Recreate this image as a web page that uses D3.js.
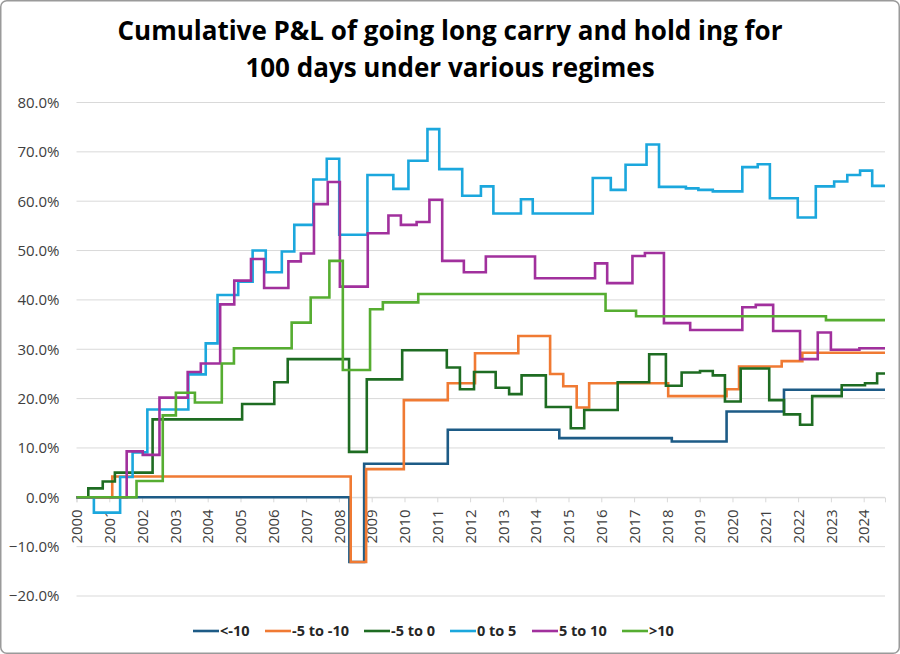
<!DOCTYPE html>
<html>
<head>
<meta charset="utf-8">
<script src="https://cdn.jsdelivr.net/npm/d3@7"></script>
<style>
  body { margin: 0; background: #fff; }
  text { font-family: "Open Sans", "Noto Sans", sans-serif; }
</style>
</head>
<body>
<div id="vis"></div>
<script>
const W = 900, H = 654;
const margin = { top: 102.5, right: 15, bottom: 58, left: 76.5 };
const width = W - margin.left - margin.right;
const height = 596 - margin.top;

const endYear = 2024.65;
const yearTicks = d3.range(2000, 2025);
const yTicks = [-0.2, -0.1, 0, 0.1, 0.2, 0.3, 0.4, 0.5, 0.6, 0.7, 0.8];

// [year of change, cumulative P&L in %]
const stepsBelowM10 = [[2000, 0], [2008.32, -13.1], [2008.77, 6.8], [2011.32, 13.7], [2014.72, 12.0],
    [2018.15, 11.3], [2019.82, 17.4], [2021.57, 21.8]];
const stepsM5toM10 = [[2000, 0], [2001.09, 4.2], [2008.36, -13.1], [2008.83, 5.7], [2009.98, 19.7],
    [2011.32, 23.1], [2012.15, 29.2], [2013.47, 32.7], [2014.44, 25.0], [2014.84, 22.5], [2015.25, 18.2],
    [2015.63, 23.1], [2018.04, 20.5], [2019.82, 21.9], [2020.2, 26.5], [2021.5, 27.6], [2022.13, 29.3]];
const stepsM5to0 = [[2000, 0], [2000.36, 1.8], [2000.8, 3.2], [2001.17, 5.0], [2002.32, 15.8],
    [2005.05, 18.9], [2006.03, 23.3], [2006.44, 28.0], [2008.31, 9.2], [2008.85, 23.9], [2009.93, 29.8],
    [2011.29, 26.3], [2011.69, 21.9], [2012.12, 25.4], [2012.78, 22.2], [2013.19, 20.9], [2013.57, 24.7],
    [2014.31, 18.3], [2015.07, 14.0], [2015.48, 17.7], [2016.5, 23.3], [2017.46, 29.0], [2017.97, 22.6],
    [2018.45, 25.3], [2019.01, 25.6], [2019.4, 24.7], [2019.77, 19.4], [2020.25, 26.1], [2021.12, 19.7],
    [2021.57, 16.8], [2022.06, 14.7], [2022.43, 20.5], [2023.33, 22.7], [2024.04, 23.1], [2024.41, 25.1]];
const steps0to5 = [[2000, 0], [2000.53, -3.1], [2001.33, 4.1], [2001.71, 9.1], [2002.16, 17.8],
    [2003.41, 24.9], [2003.94, 31.2], [2004.3, 41.0], [2004.93, 43.7], [2005.37, 50.0], [2005.77, 45.6],
    [2006.26, 49.8], [2006.64, 55.2], [2007.22, 64.4], [2007.63, 68.6], [2008.01, 53.2], [2008.87, 65.3],
    [2009.66, 62.5], [2010.12, 68.2], [2010.7, 74.6], [2011.06, 66.5], [2011.76, 61.1], [2012.33, 63.0],
    [2012.71, 57.5], [2013.55, 60.4], [2013.91, 57.5], [2015.74, 64.7], [2016.29, 62.3], [2016.74, 67.4],
    [2017.38, 71.5], [2017.76, 62.9], [2018.58, 62.6], [2018.96, 62.3], [2019.4, 62.0], [2020.3, 66.9],
    [2020.77, 67.5], [2021.14, 60.6], [2021.99, 56.7], [2022.54, 63.0], [2023.1, 64.0], [2023.5, 65.3],
    [2023.89, 66.2], [2024.26, 63.1]];
const steps5to10 = [[2000, 0], [2001.53, 9.3], [2002.02, 8.6], [2002.53, 20.2], [2003.39, 25.4],
    [2003.79, 27.1], [2004.38, 39.1], [2004.81, 43.9], [2005.32, 48.3], [2005.72, 42.4], [2006.46, 47.8],
    [2006.84, 49.4], [2007.24, 59.4], [2007.66, 63.9], [2008.03, 42.7], [2008.88, 53.5], [2009.51, 57.1],
    [2009.89, 55.2], [2010.37, 55.8], [2010.76, 60.3], [2011.15, 47.9], [2011.81, 45.6], [2012.48, 48.8],
    [2013.98, 44.4], [2015.81, 47.4], [2016.18, 43.4], [2016.95, 48.9], [2017.33, 49.5], [2017.91, 35.3],
    [2018.71, 33.9], [2020.3, 38.5], [2020.71, 39.0], [2021.24, 33.7], [2022.06, 28.0], [2022.6, 33.4],
    [2023.0, 29.9], [2023.87, 30.2]];
const stepsAbove10 = [[2000, 0], [2001.83, 3.3], [2002.63, 16.6], [2003.03, 21.2], [2003.61, 19.2],
    [2004.43, 27.1], [2004.8, 30.2], [2006.56, 35.4], [2007.14, 40.5], [2007.71, 47.9], [2008.12, 25.8],
    [2008.95, 38.1], [2009.34, 39.5], [2010.42, 41.2], [2016.13, 37.8], [2017.06, 36.7], [2022.85, 35.9]];

const seriesNames = ['<-10', '-5 to -10', '-5 to 0', '0 to 5', '5 to 10', '>10'];
const seriesColors = ['#1d5b86', '#f07a33', '#1e6c22', '#1ba7dd', '#a1309d', '#56ad31'];
const seriesSteps = [stepsBelowM10, stepsM5toM10, stepsM5to0, steps0to5, steps5to10, stepsAbove10];

const root = d3.select('#vis')
    .append('svg')
    .attr('width', W)
    .attr('height', H);

root.append('rect')
    .attr('x', 0.75).attr('y', 0.75)
    .attr('width', W - 1.5).attr('height', H - 1.5)
    .attr('rx', 6)
    .attr('fill', '#fff')
    .attr('stroke', '#9a9a9a')
    .attr('stroke-width', 1.5);

root.append('text')
    .attr('x', W / 2).attr('y', 40)
    .attr('text-anchor', 'middle')
    .style('font-size', '26px').style('font-weight', 700)
    .style('fill', '#000')
    .text('Cumulative P&L of going long carry and hold ing for');
root.append('text')
    .attr('x', W / 2).attr('y', 76.5)
    .attr('text-anchor', 'middle')
    .style('font-size', '26px').style('font-weight', 700)
    .style('fill', '#000')
    .text('100 days under various regimes');

const svg = root.append('g')
    .attr('transform', `translate(${margin.left},${margin.top})`);

const xScale = d3.scaleLinear().domain([2000, endYear]).range([0, width]);
const yScale = d3.scaleLinear().domain([-0.2, 0.8]).range([height, 0]);

// gridlines
svg.append('g')
    .selectAll('line')
    .data(yTicks)
    .join('line')
    .attr('x1', 0).attr('x2', width)
    .attr('y1', d => yScale(d)).attr('y2', d => yScale(d))
    .attr('stroke', '#d9d9d9')
    .attr('stroke-width', 1);

// y labels
const yAxis = d3.axisLeft(yScale).tickValues(yTicks).tickFormat(d3.format('.1%')).tickSize(0).tickPadding(17);
svg.append('g')
    .attr('class', 'axis')
    .call(yAxis)
    .call(g => g.select('.domain').remove())
    .call(g => g.selectAll('text').style('font-size', '15px').style('fill', '#404040'));

// x axis sits on the 0% line
const xAxis = d3.axisBottom(xScale).tickValues(yearTicks).tickFormat(d3.format('d')).tickSizeOuter(0).tickSize(5);
svg.append('g')
    .attr('class', 'axis')
    .attr('transform', `translate(0,${yScale(0)})`)
    .call(xAxis)
    .call(g => g.select('.domain').attr('stroke', '#d9d9d9'))
    .call(g => g.selectAll('.tick line').attr('stroke', '#d9d9d9'))
    .call(g => g.selectAll('text')
        .attr('transform', 'rotate(-90)')
        .attr('x', -12).attr('y', 0).attr('dy', '0.35em')
        .attr('text-anchor', 'end')
        .style('font-size', '15px').style('fill', '#404040'));

const line = d3.line()
    .x(d => xScale(d[0]))
    .y(d => yScale(d[1] / 100))
    .curve(d3.curveStepAfter);

seriesSteps.forEach((steps, i) => {
    const pts = steps.concat([[endYear, steps[steps.length - 1][1]]]);
    svg.append('path')
        .datum(pts)
        .attr('fill', 'none')
        .attr('stroke', seriesColors[i])
        .attr('stroke-width', 2.6)
        .attr('d', line);
});

// legend
const legendX = [193, 265, 364, 450, 532, 622];
const legend = root.append('g').attr('transform', 'translate(0,631)');
seriesNames.forEach((name, i) => {
    legend.append('line')
        .attr('x1', legendX[i]).attr('x2', legendX[i] + 26)
        .attr('y1', 0).attr('y2', 0)
        .attr('stroke', seriesColors[i])
        .attr('stroke-width', 2.6);
    legend.append('text')
        .attr('x', legendX[i] + 27).attr('y', 0).attr('dy', '0.35em')
        .style('font-size', '14.5px').style('font-weight', 700)
        .style('fill', '#262626')
        .text(name);
});
</script>
</body>
</html>
